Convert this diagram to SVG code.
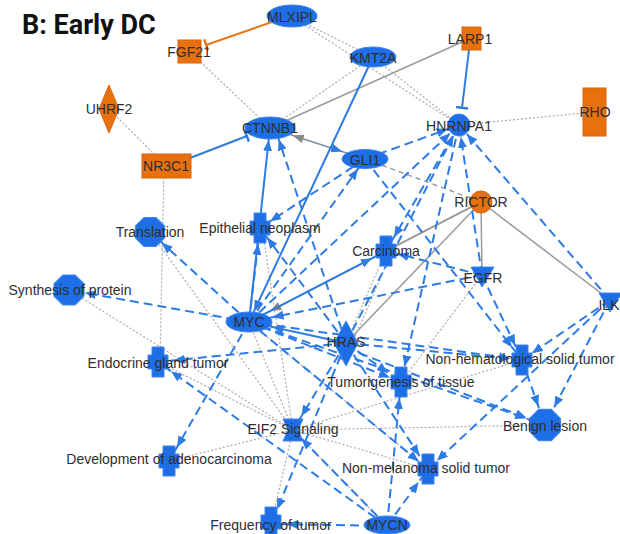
<svg xmlns="http://www.w3.org/2000/svg" xmlns:xlink="http://www.w3.org/1999/xlink" width="620" height="534" viewBox="0 0 620 534">
<style>
.e{stroke:#2d7be5;stroke-width:2;stroke-dasharray:9 5;fill:none}
.s{stroke:#2d7be5;stroke-width:2;fill:none}
.g{stroke:#9a9a9a;stroke-width:1.5;fill:none}
.gd{stroke:#9a9a9a;stroke-width:1.5;stroke-dasharray:5 4;fill:none}
.d{stroke:#b0b0b0;stroke-width:1.3;stroke-dasharray:1 3;stroke-linecap:round;fill:none}
.o{stroke:#e8761a;stroke-width:2;fill:none}
.bn{fill:#1e6ee6;stroke:#3f86ec;stroke-width:1}
.on{fill:#e8710f;stroke:#d8650a;stroke-width:1}
.t{font-family:"Liberation Sans",Arial,sans-serif;font-size:14px;fill:#2e2e2e;text-anchor:middle}
.title{font-family:Roboto,"Liberation Sans",sans-serif;font-weight:bold;font-size:27px;fill:#111}
</style>
<defs>
<marker id="b12" markerUnits="userSpaceOnUse" markerWidth="11" markerHeight="9" refX="23" refY="4.5" orient="auto"><path d="M0,0 L11,4.5 L0,9 z" fill="#2d7be5"/></marker>
<marker id="b16" markerUnits="userSpaceOnUse" markerWidth="11" markerHeight="9" refX="27" refY="4.5" orient="auto"><path d="M0,0 L11,4.5 L0,9 z" fill="#2d7be5"/></marker>
<marker id="b20" markerUnits="userSpaceOnUse" markerWidth="11" markerHeight="9" refX="31" refY="4.5" orient="auto"><path d="M0,0 L11,4.5 L0,9 z" fill="#2d7be5"/></marker>
<marker id="b24" markerUnits="userSpaceOnUse" markerWidth="11" markerHeight="9" refX="35" refY="4.5" orient="auto"><path d="M0,0 L11,4.5 L0,9 z" fill="#2d7be5"/></marker>
<marker id="g24" markerUnits="userSpaceOnUse" markerWidth="11" markerHeight="9" refX="35" refY="4.5" orient="auto-start-reverse"><path d="M0,0 L11,4.5 L0,9 z" fill="#8a8a8a"/></marker>
<marker id="bbar" markerUnits="userSpaceOnUse" markerWidth="3" markerHeight="12" refX="1.5" refY="6" orient="auto"><rect x="0" y="0" width="2.5" height="12" fill="#2d7be5"/></marker>
<marker id="obar" markerUnits="userSpaceOnUse" markerWidth="3" markerHeight="12" refX="1.5" refY="6" orient="auto"><rect x="0" y="0" width="2.5" height="12" fill="#e8761a"/></marker>
<polygon id="oct" points="13.9,5.7 5.7,13.9 -5.7,13.9 -13.9,5.7 -13.9,-5.7 -5.7,-13.9 5.7,-13.9 13.9,-5.7"/>
<path id="fn" d="M-6,-15 h12 v8 h4 v14 h-4 v8 h-12 v-8 h-4 v-14 h4 z"/>
</defs>
<rect width="620" height="534" fill="#ffffff"/>
<text class="title" x="22" y="34">B: Early DC</text>

<g id="connectors">
<line class="d" x1="292" y1="17" x2="373" y2="57"/>
<line class="d" x1="292" y1="17" x2="459" y2="125"/>
<line class="d" x1="373" y1="57" x2="459" y2="125"/>
<line class="d" x1="270" y1="128" x2="373" y2="57"/>
<line class="d" x1="189" y1="51" x2="270" y2="128"/>
<line class="d" x1="109" y1="109" x2="166" y2="166"/>
<line class="d" x1="594" y1="112" x2="459" y2="125"/>
<line class="d" x1="164" y1="166" x2="160" y2="362"/>
<line class="d" x1="150" y1="232" x2="293" y2="430"/>
<line class="d" x1="69" y1="290" x2="293" y2="430"/>
<line class="d" x1="262" y1="228" x2="293" y2="430"/>
<line class="d" x1="158" y1="362" x2="293" y2="430"/>
<line class="d" x1="169" y1="461" x2="293" y2="430"/>
<line class="d" x1="293" y1="430" x2="545" y2="425"/>
<line class="d" x1="293" y1="430" x2="428" y2="469"/>
<line class="d" x1="293" y1="430" x2="271" y2="524"/>
<line class="d" x1="293" y1="430" x2="387" y2="526"/>
<line class="d" x1="386" y1="251" x2="346" y2="343"/>
<line class="d" x1="391" y1="254" x2="351" y2="346"/>
<line class="d" x1="482" y1="275" x2="401" y2="382"/>
<line class="d" x1="522" y1="360" x2="293" y2="430"/>
<line class="d" x1="249" y1="322" x2="428" y2="469"/>
<line class="d" x1="249" y1="322" x2="293" y2="430"/>
<line class="g" x1="471" y1="38" x2="270" y2="128"/>
<line class="g" x1="481" y1="202" x2="249" y2="322" marker-end="url(#g24)"/>
<line class="g" x1="481" y1="202" x2="386" y2="251"/>
<line class="g" x1="481" y1="202" x2="346" y2="343"/>
<line class="g" x1="481" y1="202" x2="482" y2="275"/>
<line class="g" x1="481" y1="202" x2="610" y2="300"/>
<line class="gd" x1="365" y1="159" x2="481" y2="202"/>
<line class="g" x1="270" y1="128" x2="365" y2="159" marker-start="url(#g24)" marker-end="url(#b24)" style="stroke:#7f8ea6"/>
<line class="s" x1="373" y1="57" x2="249" y2="322" marker-end="url(#b12)"/>
<line class="s" x1="249" y1="322" x2="270" y2="128" marker-end="url(#b12)"/>
<line class="s" x1="249" y1="322" x2="386" y2="251" marker-end="url(#b16)"/>
<line class="s" x1="346" y1="343" x2="249" y2="322" marker-end="url(#b24)"/>
<line class="s" x1="190" y1="158" x2="247" y2="136" marker-end="url(#bbar)"/>
<line class="s" x1="469" y1="50" x2="462" y2="108" marker-end="url(#bbar)"/>
<line class="o" x1="272" y1="22" x2="206" y2="45" marker-end="url(#obar)"/>
<line class="e" x1="249" y1="322" x2="150" y2="232" marker-end="url(#b16)"/>
<line class="e" x1="249" y1="322" x2="69" y2="290" marker-end="url(#b16)"/>
<line class="e" x1="249" y1="322" x2="260" y2="228" marker-end="url(#b16)"/>
<line class="e" x1="249" y1="322" x2="365" y2="159" marker-end="url(#b12)"/>
<line class="e" x1="249" y1="322" x2="169" y2="461" marker-end="url(#b16)"/>
<line class="e" x1="249" y1="322" x2="401" y2="382" marker-end="url(#b12)"/>
<line class="e" x1="249" y1="322" x2="522" y2="360" marker-end="url(#b12)"/>
<line class="e" x1="249" y1="322" x2="545" y2="425" marker-end="url(#b20)"/>
<line class="e" x1="249" y1="322" x2="428" y2="469" marker-end="url(#b12)"/>
<line class="e" x1="249" y1="322" x2="459" y2="125" marker-end="url(#b12)"/>
<line class="e" x1="346" y1="343" x2="275" y2="128" marker-end="url(#b12)"/>
<line class="e" x1="346" y1="343" x2="158" y2="362" marker-end="url(#b16)"/>
<line class="e" x1="346" y1="343" x2="293" y2="430" marker-end="url(#b16)"/>
<line class="e" x1="346" y1="343" x2="271" y2="524" marker-end="url(#b16)"/>
<line class="e" x1="346" y1="343" x2="401" y2="382" marker-end="url(#b16)"/>
<line class="e" x1="346" y1="343" x2="522" y2="360" marker-end="url(#b12)"/>
<line class="e" x1="346" y1="348" x2="545" y2="425" marker-end="url(#b20)"/>
<line class="e" x1="346" y1="343" x2="428" y2="469" marker-end="url(#b16)"/>
<line class="e" x1="346" y1="343" x2="459" y2="125" marker-end="url(#b12)"/>
<line class="e" x1="346" y1="343" x2="260" y2="228" marker-end="url(#b12)"/>
<line class="e" x1="365" y1="159" x2="260" y2="228" marker-end="url(#b12)"/>
<line class="e" x1="365" y1="159" x2="522" y2="360" marker-end="url(#b16)"/>
<line class="e" x1="365" y1="159" x2="459" y2="125" marker-end="url(#b12)"/>
<line class="e" x1="459" y1="125" x2="386" y2="251" marker-end="url(#b16)"/>
<line class="e" x1="459" y1="125" x2="401" y2="382" marker-end="url(#b16)"/>
<line class="e" x1="482" y1="275" x2="459" y2="125" marker-end="url(#b12)"/>
<line class="e" x1="610" y1="300" x2="459" y2="125" marker-end="url(#b12)"/>
<line class="e" x1="482" y1="275" x2="386" y2="251" marker-end="url(#b12)"/>
<line class="e" x1="482" y1="275" x2="249" y2="322" marker-end="url(#b24)"/>
<line class="e" x1="482" y1="275" x2="522" y2="360" marker-end="url(#b16)"/>
<line class="e" x1="610" y1="300" x2="522" y2="360" marker-end="url(#b12)"/>
<line class="e" x1="610" y1="300" x2="545" y2="425" marker-end="url(#b20)"/>
<line class="e" x1="610" y1="300" x2="428" y2="469" marker-end="url(#b12)"/>
<line class="e" x1="522" y1="360" x2="545" y2="425" marker-end="url(#b20)"/>
<line class="e" x1="387" y1="526" x2="271" y2="524" marker-end="url(#b16)"/>
<line class="e" x1="387" y1="526" x2="293" y2="430" marker-end="url(#b12)"/>
<line class="e" x1="387" y1="526" x2="401" y2="382" marker-end="url(#b16)"/>
<line class="e" x1="387" y1="526" x2="428" y2="469" marker-end="url(#b16)"/>
<line class="e" x1="387" y1="526" x2="158" y2="362" marker-end="url(#b16)"/>
</g>

<g id="MLXIPL"><ellipse class="bn" cx="292" cy="16" rx="25" ry="11"/><text class="t" x="292" y="22">MLXIPL</text></g>
<g id="FGF21"><rect class="on" x="178" y="40" width="23" height="23"/><text class="t" x="189" y="57">FGF21</text></g>
<g id="KMT2A"><ellipse class="bn" cx="373" cy="57" rx="23" ry="10"/><text class="t" x="373" y="63">KMT2A</text></g>
<g id="LARP1"><rect class="on" x="462" y="27" width="19" height="23"/><text class="t" x="470" y="44">LARP1</text></g>
<g id="UHRF2"><polygon class="on" points="109,85 119,109 109,133 99,109"/><text class="t" x="109" y="114">UHRF2</text></g>
<g id="RHO"><rect class="on" x="583" y="88" width="23" height="48"/><text class="t" x="595" y="117">RHO</text></g>
<g id="HNRNPA1"><circle class="bn" cx="459" cy="125" r="11"/><text class="t" x="459" y="131">HNRNPA1</text></g>
<g id="CTNNB1"><ellipse class="bn" cx="270" cy="128" rx="25" ry="11"/><text class="t" x="270" y="133">CTNNB1</text></g>
<g id="NR3C1"><rect class="on" x="142" y="154" width="49" height="24"/><text class="t" x="166" y="171">NR3C1</text></g>
<g id="GLI1"><ellipse class="bn" cx="365" cy="159" rx="23" ry="9.5"/><text class="t" x="365" y="165">GLI1</text></g>
<g id="RICTOR"><circle class="on" cx="481" cy="202" r="11"/><text class="t" x="481" y="207">RICTOR</text></g>
<g id="Translation"><use href="#oct" class="bn" transform="translate(150,232) scale(1.05)"/><text class="t" x="150" y="237">Translation</text></g>
<g id="EpithelialNeoplasm"><use href="#fn" class="bn" transform="translate(260,228)"/><text class="t" x="260" y="233">Epithelial neoplasm</text></g>
<g id="Carcinoma"><use href="#fn" class="bn" transform="translate(386,251)"/><text class="t" x="386" y="256">Carcinoma</text></g>
<g id="EGFR"><polygon class="bn" points="471,267 494,267 482,287"/><text class="t" x="483" y="283">EGFR</text></g>
<g id="SynthesisOfProtein"><use href="#oct" class="bn" transform="translate(69,290) scale(1.08)"/><text class="t" x="70" y="295">Synthesis of protein</text></g>
<g id="ILK"><polygon class="bn" points="599,293 622,293 610,312"/><text class="t" x="609" y="310">ILK</text></g>
<g id="MYC"><ellipse class="bn" cx="249" cy="322" rx="23" ry="10"/><text class="t" x="249" y="327">MYC</text></g>
<g id="HRAS"><polygon class="bn" points="346,321 358,343 346,366 334,343"/><text class="t" x="346" y="347">HRAS</text></g>
<g id="NonHematologicalSolidTumor"><use href="#fn" class="bn" transform="translate(522,360)"/><text class="t" x="520" y="364">Non-hematological solid tumor</text></g>
<g id="EndocrineGlandTumor"><use href="#fn" class="bn" transform="translate(158,362)"/><text class="t" x="158" y="368">Endocrine gland tumor</text></g>
<g id="TumorigenesisOfTissue"><use href="#fn" class="bn" transform="translate(401,382)"/><text class="t" x="401" y="387">Tumorigenesis of tissue</text></g>
<g id="BenignLesion"><use href="#oct" class="bn" transform="translate(545,425) scale(1.12)"/><text class="t" x="545" y="431">Benign lesion</text></g>
<g id="EIF2Signaling"><path class="bn" d="M283,419 h20 l-5,11 l5,11 h-20 l5,-11 z"/><text class="t" x="293" y="434">EIF2 Signaling</text></g>
<g id="DevelopmentOfAdenocarcinoma"><use href="#fn" class="bn" transform="translate(169,461)"/><text class="t" x="169" y="464">Development of adenocarcinoma</text></g>
<g id="NonMelanomaSolidTumor"><use href="#fn" class="bn" transform="translate(428,469)"/><text class="t" x="426" y="473">Non-melanoma solid tumor</text></g>
<g id="FrequencyOfTumor"><use href="#fn" class="bn" transform="translate(271,522)"/><text class="t" x="271" y="530">Frequency of tumor</text></g>
<g id="MYCN"><ellipse class="bn" cx="387" cy="525" rx="23" ry="9"/><text class="t" x="387" y="530">MYCN</text></g>
</svg>
